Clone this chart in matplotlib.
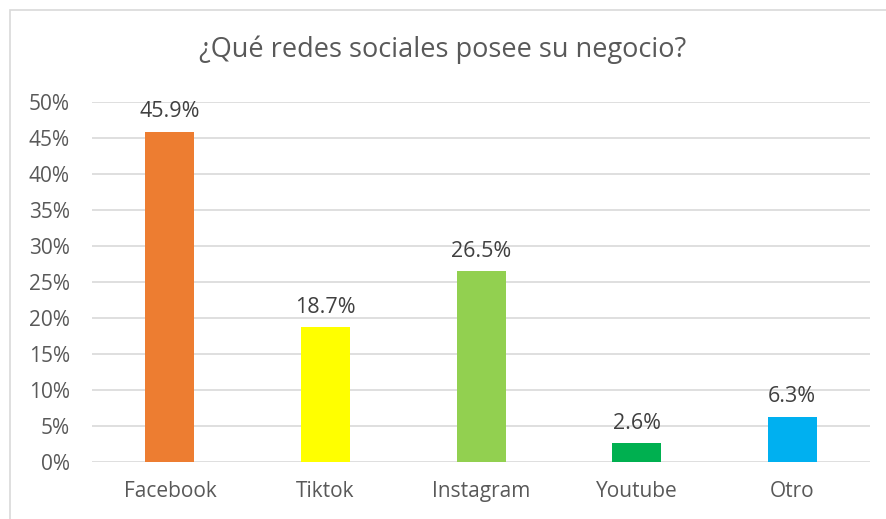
import matplotlib.pyplot as plt
from matplotlib.patches import Rectangle
import numpy as np

categories = ["Facebook", "Tiktok", "Instagram", "Youtube", "Otro"]
values = [45.9, 18.7, 26.5, 2.6, 6.3]
colors = ["#ED7D31", "#FFFF00", "#92D050", "#00B050", "#00B0F0"]
yticks = [0, 5, 10, 15, 20, 25, 30, 35, 40, 45, 50]

plt.rcParams['font.family'] = ['Open Sans', 'DejaVu Sans']

fig = plt.figure(figsize=(8.86, 5.19), dpi=100)
ax = fig.add_axes([0.104, 0.110, 0.878, 0.693])

x = np.arange(len(categories))
bars = ax.bar(x, values, width=0.315, color=colors, zorder=3)
for b, v in zip(bars, values):
    ax.text(b.get_x() + b.get_width() / 2, v + 1.3, f"{v:.1f}%",
            ha='center', va='bottom', fontsize=15.5, color='#404040')

ax.set_xlim(-0.5, len(categories) - 0.5)
ax.set_ylim(0, 50)
ax.set_yticks(yticks)
ax.set_yticklabels([f"{t}%" for t in yticks])
ax.set_xticks(x)
ax.set_xticklabels(categories)
ax.tick_params(axis='both', length=0, labelsize=15, labelcolor='#595959')
ax.tick_params(axis='x', pad=14)
ax.tick_params(axis='y', pad=16)
ax.grid(axis='y', color='#d9d9d9', linewidth=1.2, zorder=0)
for s in ax.spines.values():
    s.set_visible(False)

fig.text(0.5, 0.905, "¿Qué redes sociales posee su negocio?", ha='center', va='center',
         fontsize=19.5, color='#595959')

# chart border
fig.patches.append(Rectangle((10 / 886, -0.01), 1.0, 1 - 10 / 519 + 0.01,
                             transform=fig.transFigure, fill=False,
                             edgecolor='#d9d9d9', linewidth=1.2))

fig.savefig("out.png", dpi=100)
